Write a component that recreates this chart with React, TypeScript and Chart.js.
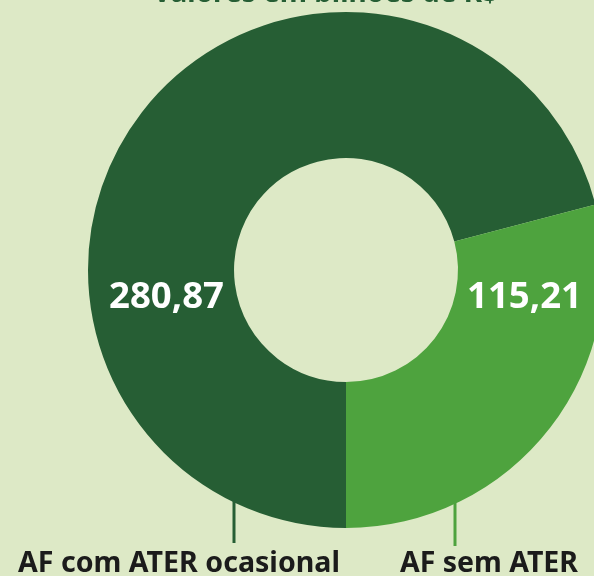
import React, { useEffect, useRef } from "react";
import { Chart, registerables } from "chart.js";

Chart.register(...registerables);

const categories = ["AF com ATER ocasional", "AF sem ATER"];
const values = [280.87, 115.21];
const valueLabels = ["280,87", "115,21"];
const title = "Valores em bilhões de R$";

const BG = "#dde9c6";
const DARK = "#265e34";
const LIGHT = "#4ea33e";
const colors = [DARK, LIGHT];

function fitText(ctx: CanvasRenderingContext2D, text: string, left: number, baseline: number, width: number) {
  const w = ctx.measureText(text).width;
  const s = width / w;
  ctx.save();
  ctx.translate(left, baseline);
  ctx.scale(s, 1);
  ctx.textAlign = "left";
  ctx.textBaseline = "alphabetic";
  ctx.fillText(text, 0, 0);
  ctx.restore();
}

const labelPlugin = {
  id: "labelPlugin",
  afterDraw(chart: any) {
    const ctx = chart.ctx;
    const meta = chart.getDatasetMeta(0);
    const arc = meta.data[0];
    if (!arc) return;
    const cx = arc.x;
    const cy = arc.y;
    const outer = arc.outerRadius;
    const inner = arc.innerRadius;
    const mid = (outer + inner) / 2;
    ctx.save();
    // title
    ctx.fillStyle = DARK;
    ctx.font = "bold 28px 'Noto Sans'";
    fitText(ctx, title, cx - 193, 2, 345);
    // value labels
    ctx.fillStyle = "#ffffff";
    ctx.font = "bold 35px 'Noto Sans'";
    fitText(ctx, valueLabels[0], cx - mid - 52, cy + 38, 115);
    fitText(ctx, valueLabels[1], cx + mid - 64, cy + 38, 115);
    // leader lines + category labels
    const lineX = [cx - 112, cx + 109];
    const lineEnd = [543, 546];
    const textX = [18, 400];
    const textW = [322, 178];
    for (let i = 0; i < categories.length; i++) {
      const dx = lineX[i] - cx;
      const y0 = cy + Math.sqrt(outer * outer - dx * dx) - 2;
      ctx.strokeStyle = colors[i];
      ctx.lineWidth = 3;
      ctx.beginPath();
      ctx.moveTo(lineX[i], y0);
      ctx.lineTo(lineX[i], lineEnd[i]);
      ctx.stroke();
      ctx.fillStyle = "#1b1b1b";
      ctx.font = "bold 28px 'Noto Sans'";
      fitText(ctx, categories[i], textX[i], 572, textW[i]);
    }
    ctx.restore();
  },
};

export default function App() {
  const ref = useRef<HTMLCanvasElement>(null);
  useEffect(() => {
    if (!ref.current) return;
    const chart = new Chart(ref.current, {
      type: "doughnut",
      data: {
        labels: categories,
        datasets: [
          {
            data: values,
            backgroundColor: colors,
            borderWidth: 0,
            hoverOffset: 0,
          },
        ],
      },
      options: {
        responsive: false,
        animation: false,
        devicePixelRatio: 1,
        rotation: 180,
        cutout: "43.4%",
        layout: { padding: { left: 88, top: 12, right: 96, bottom: 48 } },
        plugins: {
          legend: { display: false },
          tooltip: { enabled: false },
          title: { display: false },
        },
      },
      plugins: [labelPlugin],
    });
    return () => chart.destroy();
  }, []);
  return (
    <div
      style={{
        position: "fixed",
        left: 0,
        top: 0,
        width: 594,
        height: 576,
        overflow: "hidden",
        background: BG,
      }}
    >
      <canvas ref={ref} width={700} height={576} style={{ width: 700, height: 576, display: "block" }} />
    </div>
  );
}
